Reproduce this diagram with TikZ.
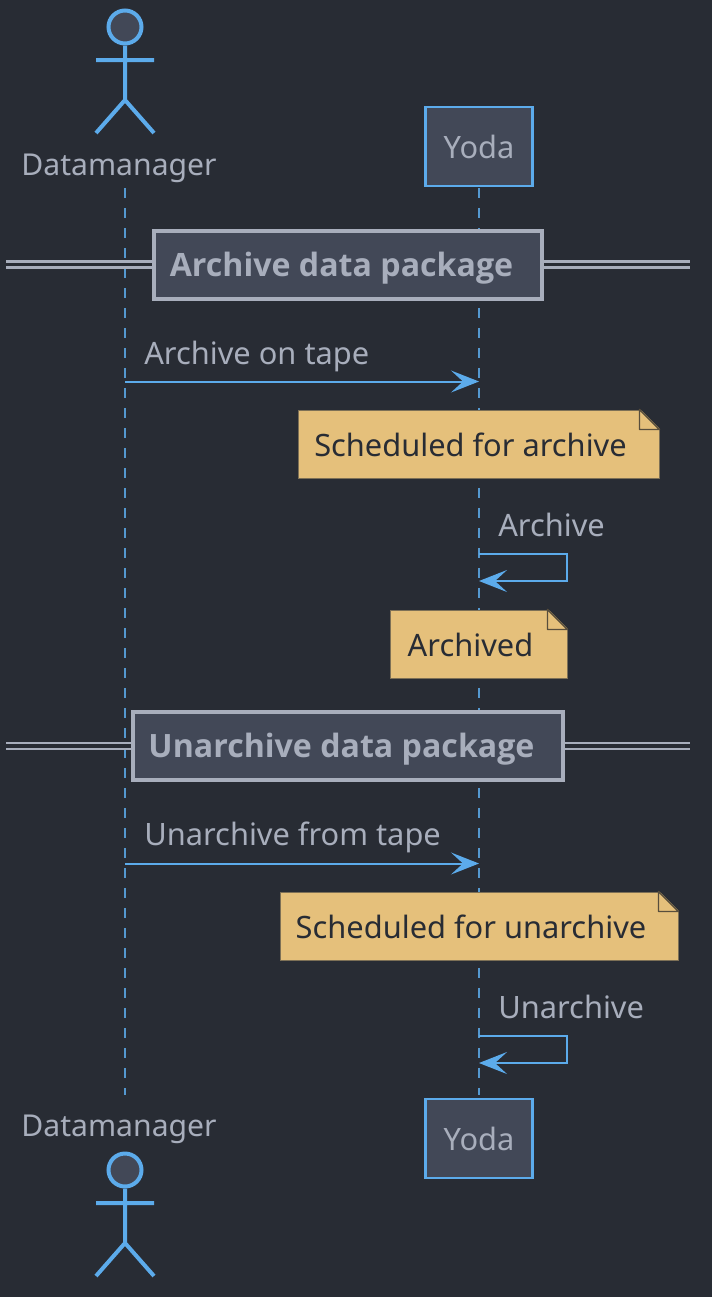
\documentclass[tikz,border=0pt]{standalone}
\usepackage{fontspec}
\setmainfont{Noto Sans}
\newfontfamily\sectionfont{Open Sans}
\usetikzlibrary{arrows.meta}

\definecolor{bgdark}{HTML}{282C34}
\definecolor{boxfill}{HTML}{424857}
\definecolor{linkblue}{HTML}{5CABEB}
\definecolor{labelgray}{HTML}{A8AEBC}
\definecolor{notefill}{HTML}{E5C07B}
\definecolor{noteline}{HTML}{7D7056}

\tikzstyle{participant} = [draw=linkblue,fill=boxfill,line width=2.2pt,minimum width=107*0.75pt,minimum height=79*0.75pt,text=labelgray,font=\fontsize{23.1}{26}\selectfont]
\tikzstyle{divider} = [draw=labelgray,fill=boxfill,line width=3pt,minimum height=68*0.75pt,text=labelgray,font=\sectionfont\fontsize{24.1}{26}\selectfont\bfseries,inner sep=0pt]
\tikzstyle{note} = [draw=noteline,fill=notefill,line width=0.75pt,minimum height=68*0.75pt,text=bgdark,font=\fontsize{23.1}{26}\selectfont,inner sep=0pt]
\tikzstyle{msglabel} = [anchor=base west,text=labelgray,font=\fontsize{23.1}{26}\selectfont,inner sep=0pt]
\tikzstyle{actorlabel} = [anchor=base,text=labelgray,font=\fontsize{22.6}{26}\selectfont,inner sep=0pt]
\tikzstyle{lifeline} = [draw=linkblue!85!bgdark,line width=1.7pt,dash pattern=on 7.5pt off 7.5pt]
\tikzstyle{message} = [draw=linkblue,line width=1.5pt,-{Stealth[length=21pt,width=16.5pt,inset=9pt]}]
\tikzstyle{rule} = [draw=labelgray,line width=1.8pt]
\tikzstyle{stick} = [draw=linkblue,line width=3pt]

\newcommand{\stickman}[2]{
	\node (#1) at (125,#2) [circle,draw=linkblue,fill=boxfill,line width=3pt,minimum size=33*0.75pt,inner sep=0pt]{};
	\coordinate (#1-arml) at (96,#2+33);
	\coordinate (#1-armr) at (154,#2+33);
	\coordinate (#1-hip) at (125,#2+73);
	\coordinate (#1-legl) at (96,#2+106);
	\coordinate (#1-legr) at (154,#2+106);
	\path[stick] (#1) -- (#1-hip) -- (#1-legl) (#1-hip) -- (#1-legr) (#1-arml) -- (#1-armr);
}
\newcommand{\notefold}[1]{
	\coordinate (#1-a) at ([xshift=-15pt]#1.north east);
	\coordinate (#1-b) at ([yshift=-15pt]#1.north east);
	\coordinate (#1-c) at ([xshift=-15pt,yshift=-15pt]#1.north east);
	\fill[bgdark] ([xshift=-15pt,yshift=1pt]#1.north east) -- ([xshift=1pt,yshift=1pt]#1.north east) -- ([xshift=1pt,yshift=-15pt]#1.north east) -- cycle;
	\draw[draw=noteline!70!black,line width=1.1pt,fill=notefill,line join=round] (#1-a) -- (#1-b) -- (#1-c) -- cycle;
}
\newcommand{\notetext}[1]{\hspace*{-12pt}\raisebox{-9.5pt}[0pt][0pt]{#1}}
\newcommand{\sectiontext}[1]{\hspace*{-9.75pt}\raisebox{-9pt}[0pt][0pt]{#1}}

\begin{document}
\begin{tikzpicture}[x=0.75pt,y=-0.75pt]

	\path[fill=bgdark,use as bounding box] (0,0) rectangle (712,1297);

	% lifelines
	\coordinate (dm_top) at (125.3,188);
	\coordinate (dm_bot) at (125.3,1095);
	\coordinate (yo_top) at (479.3,188);
	\coordinate (yo_bot) at (479.3,1095);
	\path[lifeline] (dm_top) -- (dm_bot);
	\path[lifeline] (yo_top) -- (yo_bot);

	% participants
	\stickman{dm_a}{27}
	\stickman{dm_b}{1170}
	\node (dm_lt) at (119,175) [actorlabel]{Datamanager};
	\node (dm_lb) at (119,1136) [actorlabel]{Datamanager};
	\node (yo_a) at (479,146.5) [participant]{Yoda};
	\node (yo_b) at (479,1138.5) [participant]{Yoda};

	% first section
	\coordinate (r1_l) at (6,264.5);
	\coordinate (r1_r) at (690,264.5);
	\path[rule,double=bgdark,double distance=2.6pt] (r1_l) -- (r1_r);
	\node (sec_a) at (348,264.5) [divider,minimum width=388*0.75pt]{\sectiontext{Archive data package}};

	\node (m_a) at (144,364) [msglabel]{Archive on tape};
	\coordinate (a_s) at (125,381.5);
	\coordinate (a_e) at (479,381.5);
	\path[message] (a_s) -- (a_e);

	\node (n_a) at (478.5,444) [note,minimum width=361*0.75pt]{\notetext{Scheduled for archive}};
	\notefold{n_a}

	\node (m_b) at (498,536) [msglabel]{Archive};
	\coordinate (b_s) at (479,554);
	\coordinate (b_r) at (567,554);
	\coordinate (b_q) at (567,581);
	\coordinate (b_e) at (479,581);
	\path[message] (b_s) -- (b_r) -- (b_q) -- (b_e);

	\node (n_b) at (478.5,644) [note,minimum width=177*0.75pt]{\notetext{Archived}};
	\notefold{n_b}

	% second section
	\coordinate (r2_l) at (6,746);
	\coordinate (r2_r) at (690,746);
	\path[rule,double=bgdark,double distance=2.6pt] (r2_l) -- (r2_r);
	\node (sec_b) at (348,745.5) [divider,minimum width=430*0.75pt]{\sectiontext{Unarchive data package}};

	\node (m_c) at (144,845) [msglabel]{Unarchive from tape};
	\coordinate (c_s) at (125,863.5);
	\coordinate (c_e) at (479,863.5);
	\path[message] (c_s) -- (c_e);

	\node (n_c) at (479,926) [note,minimum width=398*0.75pt]{\notetext{Scheduled for unarchive}};
	\notefold{n_c}

	\node (m_d) at (498,1018) [msglabel]{Unarchive};
	\coordinate (d_s) at (479,1036);
	\coordinate (d_r) at (567,1036);
	\coordinate (d_q) at (567,1063);
	\coordinate (d_e) at (479,1063);
	\path[message] (d_s) -- (d_r) -- (d_q) -- (d_e);

\end{tikzpicture}
\end{document}
